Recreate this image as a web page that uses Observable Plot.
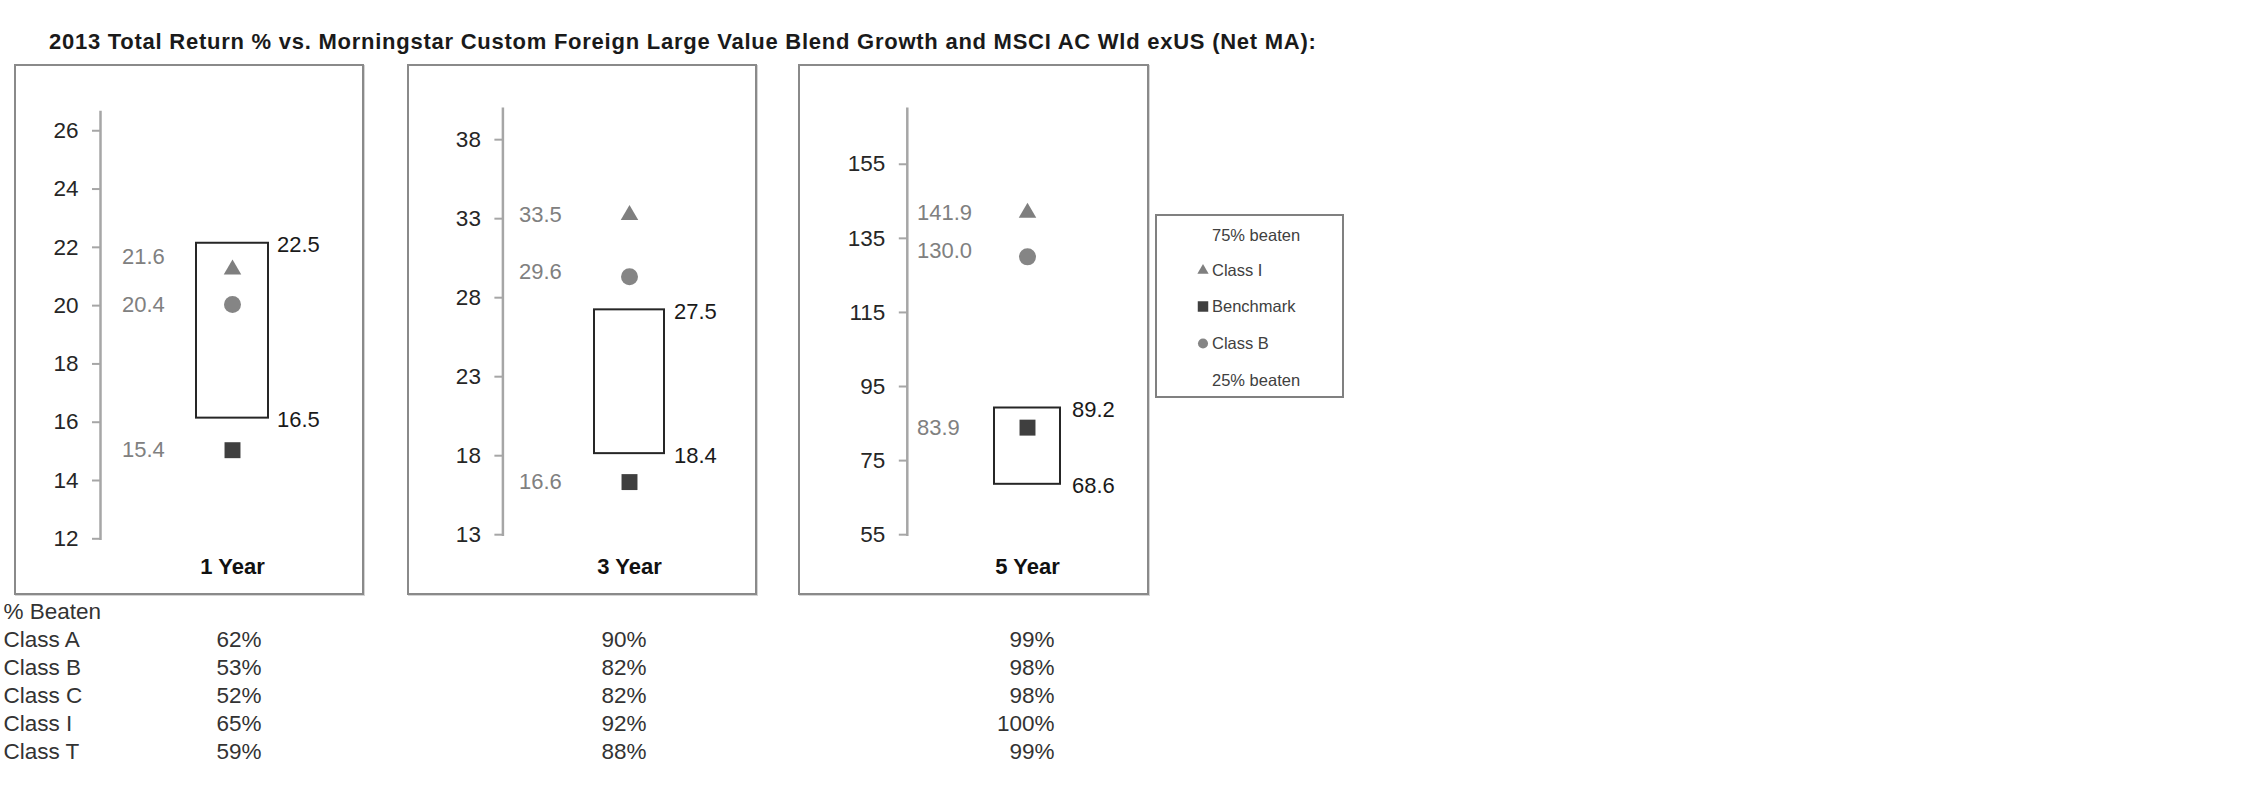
<!DOCTYPE html>
<html>
<head>
<meta charset="utf-8">
<script src="https://cdn.jsdelivr.net/npm/d3@7"></script>
<script src="https://cdn.jsdelivr.net/npm/@observablehq/plot@0.6"></script>
<style>
  html, body { margin: 0; padding: 0; background: #fff; }
  #root { position: relative; width: 2250px; height: 796px; overflow: hidden;
          font-family: "Liberation Sans", Arial, sans-serif; }
  .title { position: absolute; left: 49px; top: 31px; font-size: 22px; font-weight: bold;
           letter-spacing: 0.75px; line-height: 22px; color: #1a1a1a; white-space: nowrap; }
  .panel { position: absolute; top: 64px; height: 531px; }
  .panel svg { position: absolute; left: 0; top: 0; overflow: visible; }
  .panel .border { position: absolute; left: 0; top: 0; right: 0; bottom: 0;
           border: 2px solid #8a8a8a; box-sizing: border-box;
           box-shadow: 1px 1px 0 #d4d4d4; pointer-events: none; }
  .legend { position: absolute; left: 1155px; top: 214px; width: 189px; height: 184px;
            border: 2px solid #808080; box-sizing: border-box; }
  .legend .item { position: absolute; left: 0; font-size: 16.5px; color: #404040;
                  line-height: 20px; white-space: nowrap; }
  .legend .item svg { position: absolute; left: 40px; top: 4px; }
  .legend .item span { position: absolute; left: 55px; top: 0; }
  .table { position: absolute; left: 0; top: 590px; }
</style>
</head>
<body>
<div id="root">
  <div class="title">2013 Total Return % vs. Morningstar Custom Foreign Large Value Blend Growth and MSCI AC Wld exUS (Net MA):</div>
</div>
<script>
// ---------- data ----------
const periods   = ["1 Year", "3 Year", "5 Year"];
const classI    = [21.6, 33.5, 141.9];
const classB    = [20.4, 29.6, 130.0];
const benchmark = [15.4, 16.6, 83.9];
const beaten75  = [22.5, 27.5, 89.2];   // top of box (75% beaten)
const beaten25  = [16.5, 18.4, 68.6];   // bottom of box (25% beaten)

// y axes as drawn in the source (tick values and their printed labels)
const yDomains = [[12.36, 27.0], [13.27, 40.23], [55, 170]];
const yTicks = [
  [12.36, 14.36, 16.36, 18.36, 20.36, 22.36, 24.36, 26.36],
  [13.27, 18.27, 23.27, 28.27, 33.27, 38.27],
  [55, 75, 95, 115, 135, 155]
];
const yTickLabels = [
  ["12", "14", "16", "18", "20", "22", "24", "26"],
  ["13", "18", "23", "28", "33", "38"],
  ["55", "75", "95", "115", "135", "155"]
];

const beatenClasses = ["Class A", "Class B", "Class C", "Class I", "Class T"];
const beaten1Y = [62, 53, 52, 65, 59];
const beaten3Y = [90, 82, 82, 92, 88];
const beaten5Y = [99, 98, 98, 100, 99];

const legendItems = ["75% beaten", "Class I", "Benchmark", "Class B", "25% beaten"];

// ---------- styles / layout ----------
const FONT = "Liberation Sans, Arial, sans-serif";
const H = 531;
const layout = [
  {left: 14,    width: 350,   axis: 86,    band: [182, 254],     mt: 47.6, mb: 56.7},
  {left: 407.3, width: 350,   axis: 95.4,  band: [187, 257.7],   mt: 44.2, mb: 60.8},
  {left: 797.7, width: 351.3, axis: 108.8, band: [195.8, 262.3], mt: 44.2, mb: 60.8}
];
const series = [
  {name: "Class I",   values: classI,    symbol: "triangle", r: 6.5, fill: "#7f7f7f"},
  {name: "Class B",   values: classB,    symbol: "circle",   r: 8.5, fill: "#858585"},
  {name: "Benchmark", values: benchmark, symbol: "square",   r: 9,   fill: "#3f3f3f"}
];
const labelNudge = {"1 Year|Class I": -13, "3 Year|Class B": -5, "5 Year|Class B": -6};

const root = document.getElementById("root");

periods.forEach((period, i) => {
  const L = layout[i];
  const tickMap = new Map(yTicks[i].map((t, k) => [t, yTickLabels[i][k]]));
  const box = [{period, lo: beaten25[i], hi: beaten75[i]}];
  const xLabelPad = (565.5 - 64 - 7.9) - (H - L.mb);

  const marks = [
    Plot.frame({anchor: "left", stroke: "#a6a6a6", strokeWidth: 2.5}),
    Plot.axisY({ticks: yTicks[i], tickFormat: d => tickMap.get(d), tickSize: 8, tickPadding: 14,
                stroke: "#a6a6a6", strokeWidth: 2, fill: "#262626", fontSize: 22.5,
                fontFamily: FONT, label: null}),
    Plot.axisX({tickSize: 0, tickPadding: xLabelPad, fontSize: 22, fontWeight: "bold",
                fill: "#111", fontFamily: FONT, label: null}),
    Plot.barY(box, {x: "period", y1: "lo", y2: "hi", fill: "white", stroke: "#262626", strokeWidth: 2})
  ];
  series.forEach(s => {
    const row = [{period, v: s.values[i]}];
    marks.push(Plot.dot(row, {x: "period", y: "v", symbol: s.symbol, r: s.r, fill: s.fill, stroke: "none"}));
    marks.push(Plot.text(row, {x: "period", y: "v", text: d => d.v.toFixed(1), dx: -110.5,
      dy: labelNudge[period + "|" + s.name] || 0, textAnchor: "start",
      fill: "#808080", fontSize: 22, fontFamily: FONT}));
  });
  marks.push(Plot.text(box, {x: "period", y: "hi", text: d => d.hi.toFixed(1), dx: 44.5, dy: 2,
    textAnchor: "start", fill: "#1a1a1a", fontSize: 22, fontFamily: FONT}));
  marks.push(Plot.text(box, {x: "period", y: "lo", text: d => d.lo.toFixed(1), dx: 44.5, dy: 2,
    textAnchor: "start", fill: "#1a1a1a", fontSize: 22, fontFamily: FONT}));

  const chart = Plot.plot({
    width: L.width, height: H,
    marginLeft: L.axis, marginRight: 20, marginTop: L.mt, marginBottom: L.mb,
    x: {type: "band", domain: [period], range: L.band, padding: 0},
    y: {domain: yDomains[i]},
    style: {background: "transparent", fontFamily: FONT, overflow: "visible"},
    marks
  });
  const div = document.createElement("div");
  div.className = "panel";
  div.style.left = L.left + "px";
  div.style.width = L.width + "px";
  div.appendChild(chart);
  const border = document.createElement("div");
  border.className = "border";
  div.appendChild(border);
  root.appendChild(div);
});

// ---------- legend ----------
const legendSymbols = {"Class I": ["triangle", "#7f7f7f"], "Benchmark": ["square", "#3f3f3f"], "Class B": ["circle", "#858585"]};
const legendY = [21, 56, 92, 128.7, 166];
const legend = document.createElement("div");
legend.className = "legend";
legendItems.forEach((name, k) => {
  const it = document.createElement("div");
  it.className = "item";
  it.style.top = (legendY[k] - 2 - 10) + "px";
  if (legendSymbols[name]) {
    const [sym, col] = legendSymbols[name];
    const type = sym === "triangle" ? d3.symbolTriangle : sym === "square" ? d3.symbolSquare : d3.symbolCircle;
    const svg = d3.create("svg").attr("width", 12).attr("height", 12);
    svg.append("path").attr("transform", "translate(6,6.5)")
       .attr("d", d3.symbol(type, sym === "triangle" ? 55 : sym === "square" ? 110 : 80)()).attr("fill", col);
    it.appendChild(svg.node());
  }
  const sp = document.createElement("span");
  sp.textContent = name;
  it.appendChild(sp);
  legend.appendChild(it);
});
root.appendChild(legend);

// ---------- % beaten table ----------
const tableRows = beatenClasses.map((c, k) => ({cls: c, y1: beaten1Y[k], y3: beaten3Y[k], y5: beaten5Y[k]}));
const tableFont = {fontSize: 22.5, fontFamily: FONT, fill: "#333"};
const table = Plot.plot({
  width: 1100, height: 190, margin: 0,
  y: {type: "point", domain: ["% Beaten", ...beatenClasses], range: [20.7, 160.7], padding: 0, axis: null},
  style: {background: "transparent", overflow: "visible"},
  marks: [
    Plot.text(["% Beaten"], {frameAnchor: "left", y: d => d, text: d => d, dx: 3, textAnchor: "start", ...tableFont}),
    Plot.text(tableRows, {frameAnchor: "left", y: "cls", text: "cls", dx: 3, textAnchor: "start", ...tableFont}),
    Plot.text(tableRows, {frameAnchor: "left", y: "cls", text: d => d.y1 + "%", dx: 261, textAnchor: "end", ...tableFont}),
    Plot.text(tableRows, {frameAnchor: "left", y: "cls", text: d => d.y3 + "%", dx: 646, textAnchor: "end", ...tableFont}),
    Plot.text(tableRows, {frameAnchor: "left", y: "cls", text: d => d.y5 + "%", dx: 1054, textAnchor: "end", ...tableFont})
  ]
});
const tdiv = document.createElement("div");
tdiv.className = "table";
tdiv.appendChild(table);
root.appendChild(tdiv);
</script>
</body>
</html>
